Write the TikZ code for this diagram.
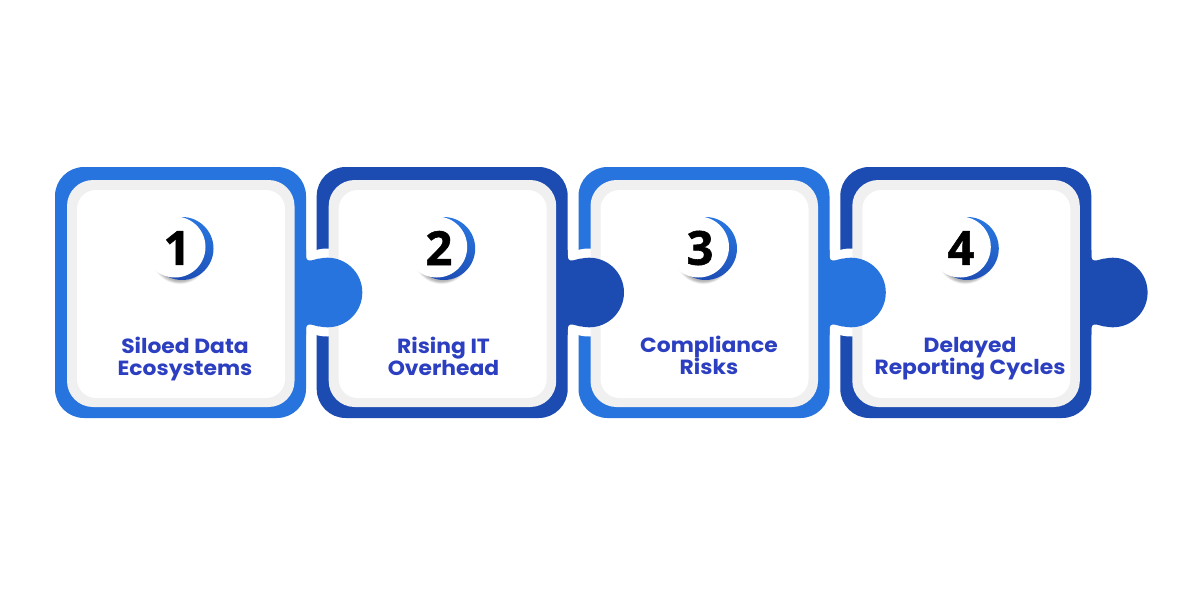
\documentclass[tikz,border=0pt]{standalone}
\usepackage{fontspec}
\newfontfamily\labfont[BoldFont={Poppins Bold},BoldFeatures={FakeStretch=1.065}]{Poppins}
\newfontfamily\numfont[BoldFeatures={FakeBold=1.2}]{Open Sans}
\definecolor{lightblue}{HTML}{2874DE}
\definecolor{darkblue}{HTML}{1C4BB2}
\definecolor{ringgray}{HTML}{F0F0F0}
\definecolor{labelblue}{HTML}{2B3FC0}
\tikzset{
  labeltext/.style={align=center,anchor=north,text=labelblue,inner sep=0pt,text height=16pt,font=\labfont\bfseries\fontsize{20.5}{22}\selectfont},
  numtext/.style={text=black,inner sep=0pt,font=\numfont\bfseries\fontsize{47}{47}\selectfont},
}
\begin{document}
\begin{tikzpicture}[x=1pt,y=-1pt]
\useasboundingbox[fill=white] (0,0) rectangle (1200,600);
\foreach \i/\dx/\col in {4/785.3/darkblue,3/523.5/lightblue,2/261.7/darkblue,1/0/lightblue}{
  \begin{scope}[xshift=\dx pt]
    % band
    \fill[\col,rounded corners=29pt] (55,167) rectangle (306,418);
    % gap around the previous card's knob
    \ifnum\i>1
      \fill[white] (65.8,292.5) circle (44);
    \fi
    % ring and face
    \fill[ringgray,rounded corners=26pt] (67,180) rectangle (294.5,407);
    \fill[white,rounded corners=19pt] (77,190) rectangle (285,398);
    % knob
    \fill[\col] (300,250) -- (306,250) -- (306,255)
      .. controls (306,259) and (307,261) .. (311,260.5)
      .. controls (313,260) and (315,259.5) .. (319,258.5)
      -- (319,326.5)
      .. controls (315,325.5) and (313,325) .. (311,324.5)
      .. controls (307,324) and (306,326) .. (306,330)
      -- (306,335) -- (300,335) -- cycle;
    \begin{scope}
      \clip (300,240) rectangle (370,345);
      \fill[\col] (327.5,292.5) circle (34.8);
    \end{scope}
    % badge
    \foreach \k in {1,...,8}{
      \fill[black,opacity=0.04] (180,{255+0.3*\k}) circle ({29.5-0.7*\k});
    }
    \shade[top color=lightblue,bottom color=darkblue,shading angle=-20] (182,248.5) circle (31.5);
    \fill[white] (175,247) circle (30.5);
  \end{scope}
}
\node[numtext]   (n1) at (177,248) {1};
\node[numtext]   (n2) at (439,248) {2};
\node[numtext]   (n3) at (700,248) {3};
\node[numtext]   (n4) at (961,248) {4};
\node[labeltext] (t1) at (185,359.5) {Siloed Data\\Ecosystems};
\node[labeltext] (t2) at (443.5,359.5) {Rising IT\\Overhead};
\node[labeltext] (t3) at (709,358.5) {Compliance\\Risks};
\node[labeltext] (t4) at (970,358.5) {Delayed\\Reporting Cycles};
\end{tikzpicture}
\end{document}
